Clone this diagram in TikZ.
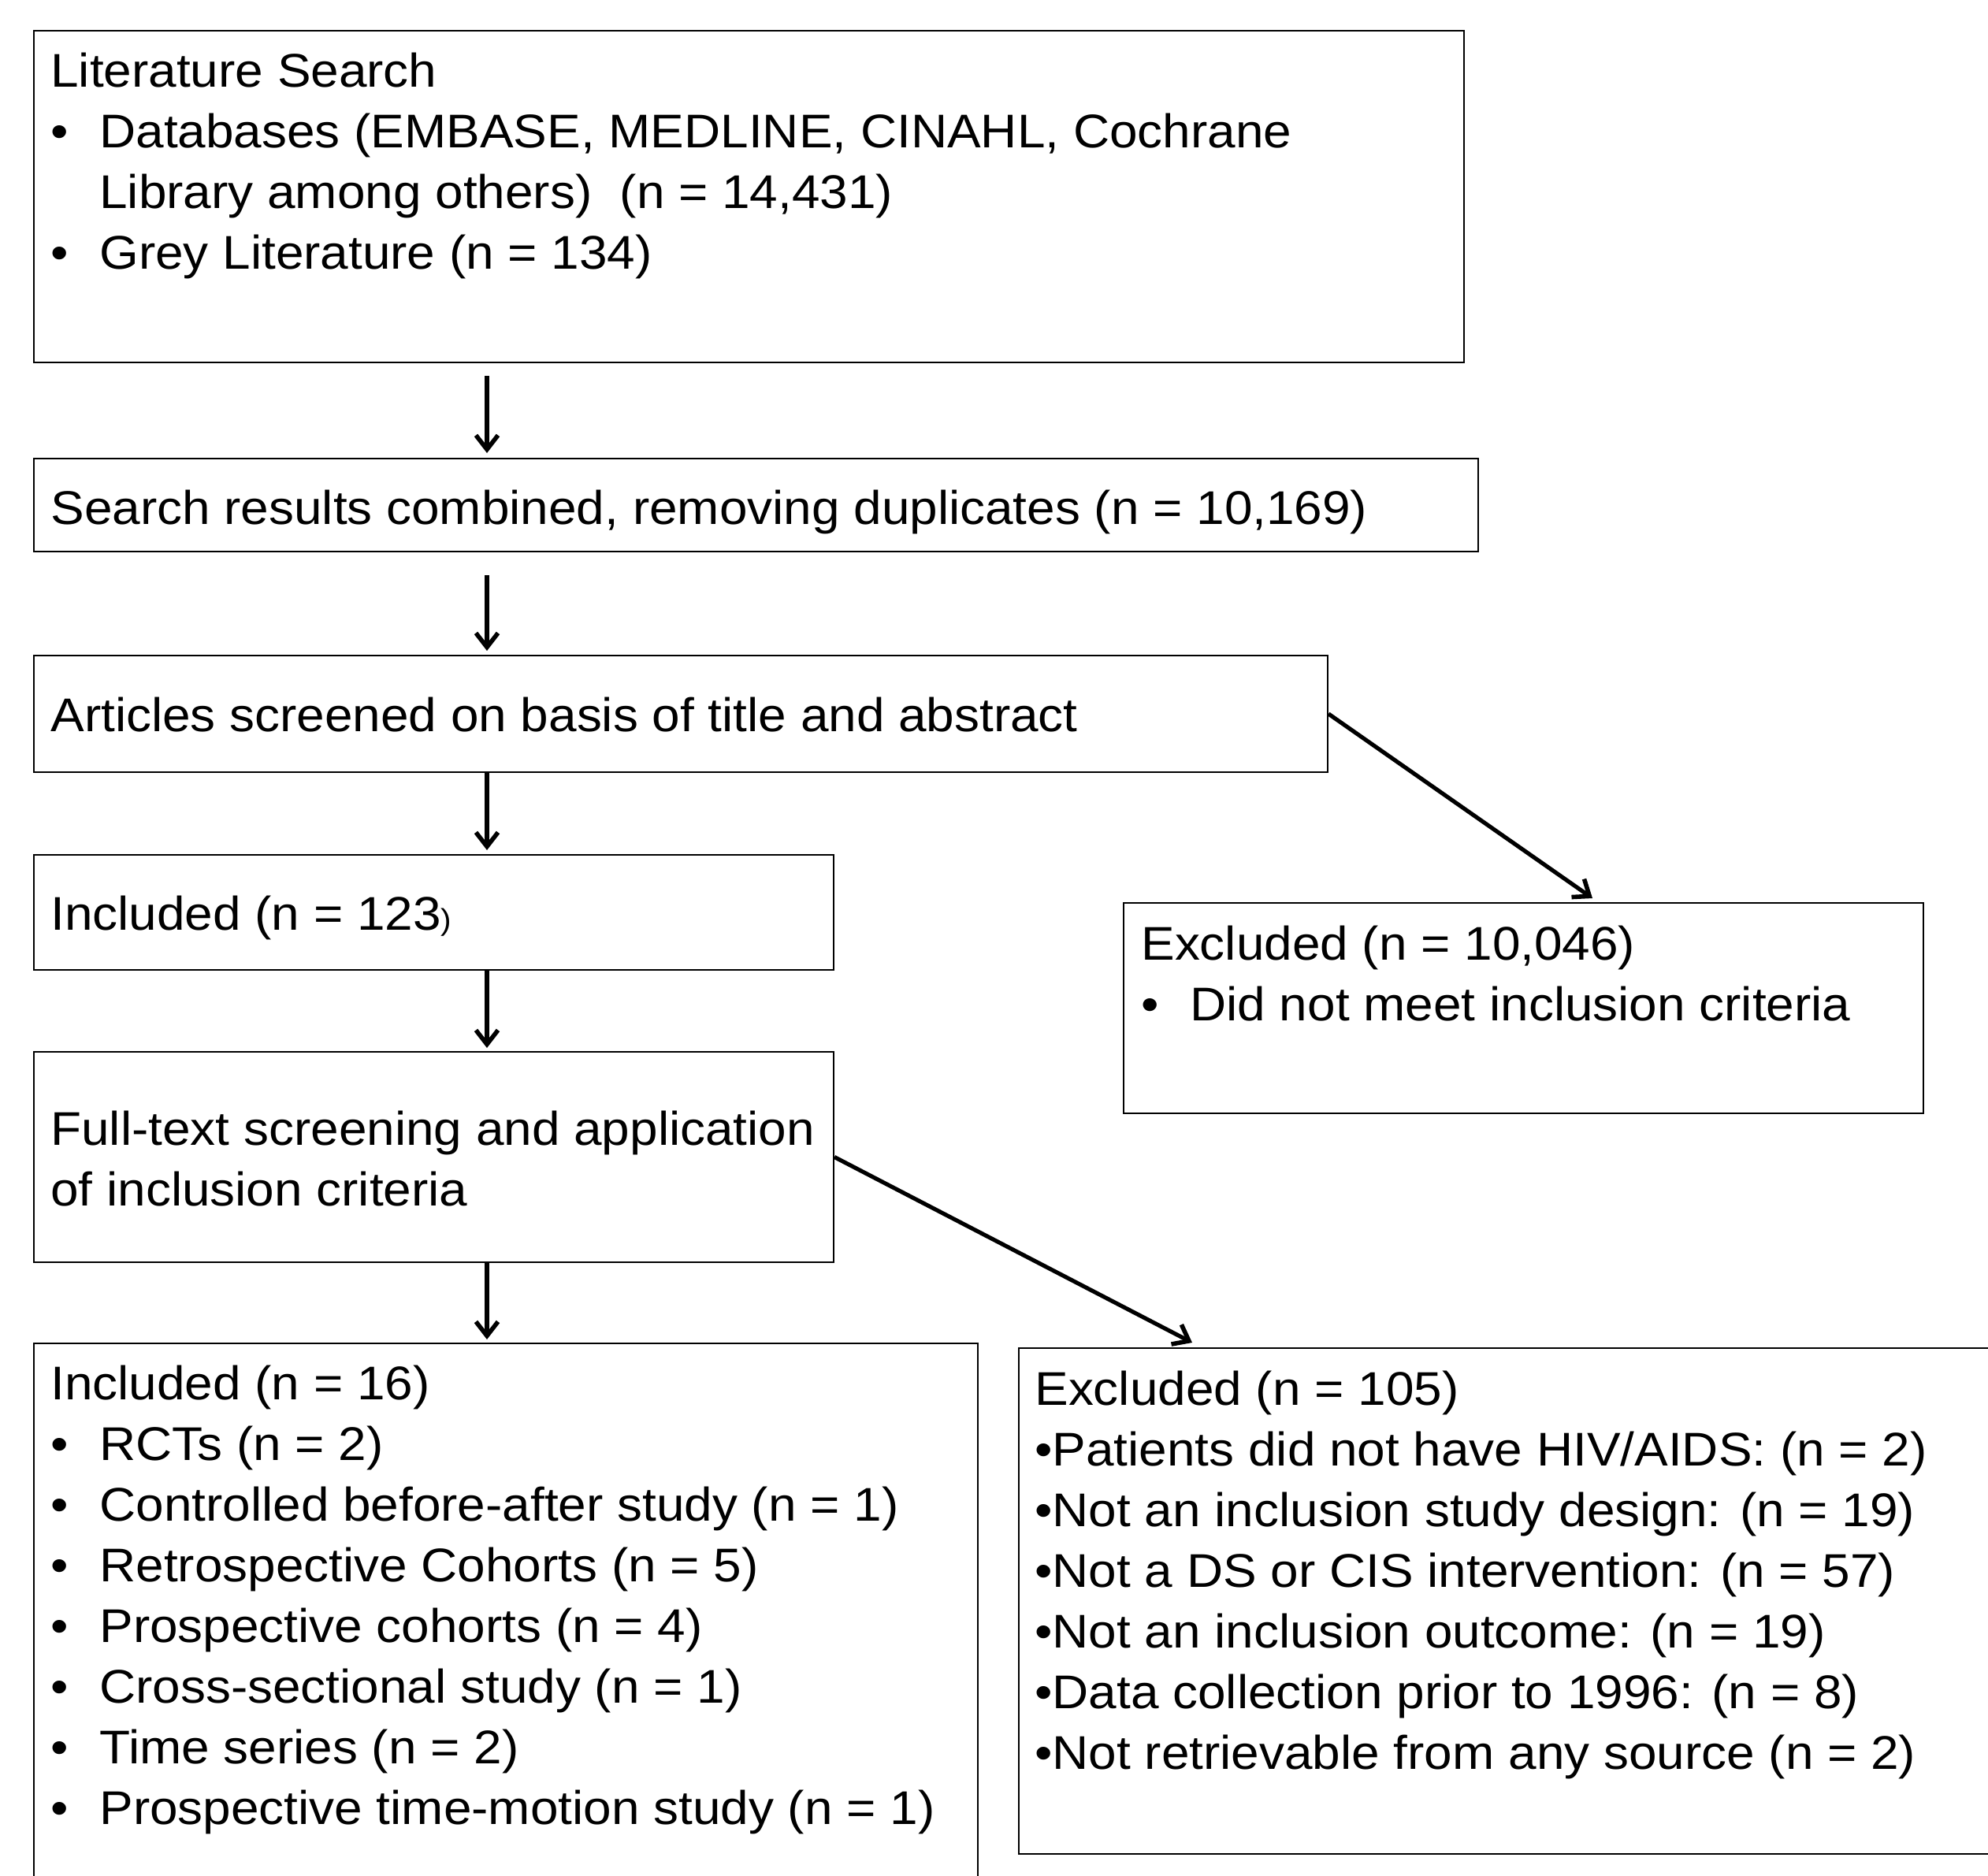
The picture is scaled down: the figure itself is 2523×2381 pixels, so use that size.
\documentclass[tikz,border=0pt]{standalone}
\usepackage{fontspec}
\setmainfont{Liberation Sans}[FakeStretch=1.065]
\usetikzlibrary{arrows.meta,calc}
\newcommand{\bul}{\makebox[31pt][l]{•}}
\begin{document}
\begin{tikzpicture}[x=0.5pt,y=-0.5pt,
  box/.style={draw,line width=1pt,inner sep=0pt,fill=none},
  txt/.style={anchor=north west,inner sep=0pt,align=left,font=\fontsize{30}{38.5}\selectfont},
  arr/.style={line width=2.6pt,-{Straight Barb[length=9pt,width=14pt,line width=2.8pt]}}]
\useasboundingbox (0,0) rectangle (2523,2381);
\clip (0,0) rectangle (2523,2381);
\fill[white] (0,0) rectangle (2523,2381);
% boxes
\node[box,minimum width=907.5pt,minimum height=210.5pt] (b1) at (950.5,249.5) {};
\node[box,minimum width=916.5pt,minimum height=59pt] (b2) at (959.5,641) {};
\node[box,minimum width=821pt,minimum height=74pt] (b3) at (864,906) {};
\node[box,minimum width=507.5pt,minimum height=73pt] (b4) at (550.5,1158) {};
\node[box,minimum width=507.5pt,minimum height=133.5pt] (b5) at (1933.5,1279.5) {};
\node[box,minimum width=507.5pt,minimum height=133.5pt] (b6) at (550.5,1468.5) {};
\node[box,minimum width=599pt,minimum height=357.5pt] (b7) at (642,2062.5) {};
\node[box,minimum width=633.5pt,minimum height=321pt] (b8) at (1926.5,2032) {};
% texts
\node[txt] (t1) at (64,56) {\strut Literature Search\\
\bul Databases (EMBASE, MEDLINE, CINAHL, Cochrane\\
\hspace*{31pt}Library among others)\ \ (n = 14,431)\\
\bul Grey Literature (n = 134)};
\node[txt] (t2) at (64,611) {\strut Search results combined, removing duplicates (n = 10,169)};
\node[txt] (t3) at (64,874) {\strut Articles screened on basis of title and abstract};
\node[txt] (t4) at (64,1126) {\strut Included (n = 123{\fontsize{19}{22}\selectfont )}};
\node[txt] (t5) at (1448,1164) {\strut Excluded (n = 10,046)\\
\bul Did not meet inclusion criteria};
\node[txt] (t6) at (64,1399) {\strut Full-text screening and application\\
of inclusion criteria};
\node[txt] (t7) at (64,1722) {\strut Included (n = 16)\\
\bul RCTs (n = 2)\\
\bul Controlled before-after study (n = 1)\\
\bul Retrospective Cohorts (n = 5)\\
\bul Prospective cohorts (n = 4)\\
\bul Cross-sectional study (n = 1)\\
\bul Time series (n = 2)\\
\bul Prospective time-motion study (n = 1)};
\node[txt] (t8) at (1313,1729) {\strut Excluded (n = 105)\\
•Patients did not have HIV/AIDS: (n = 2)\\
•Not an inclusion study design: (n = 19)\\
•Not a DS or CIS intervention: (n = 57)\\
•Not an inclusion outcome: (n = 19)\\
•Data collection prior to 1996: (n = 8)\\
•Not retrievable from any source (n = 2)};
% connectors
\coordinate (ax) at (618,0);
\coordinate (e1) at (2021,1140);
\coordinate (e2) at (1513,1704);
\draw[arr,shorten <=8pt,shorten >=3pt] (b1.south -| ax) -- (b2.north -| ax);
\draw[arr,shorten <=14.5pt,shorten >=2.5pt] (b2.south -| ax) -- (b3.north -| ax);
\draw[arr,shorten >=2.5pt] (b3.south -| ax) -- (b4.north -| ax);
\draw[arr,shorten >=2pt] (b4.south -| ax) -- (b6.north -| ax);
\draw[arr,shorten >=2pt] (b6.south -| ax) -- (b7.north -| ax);
\draw[arr] (b3.east) -- (e1);
\draw[arr] (b6.east) -- (e2);
\end{tikzpicture}
\end{document}
